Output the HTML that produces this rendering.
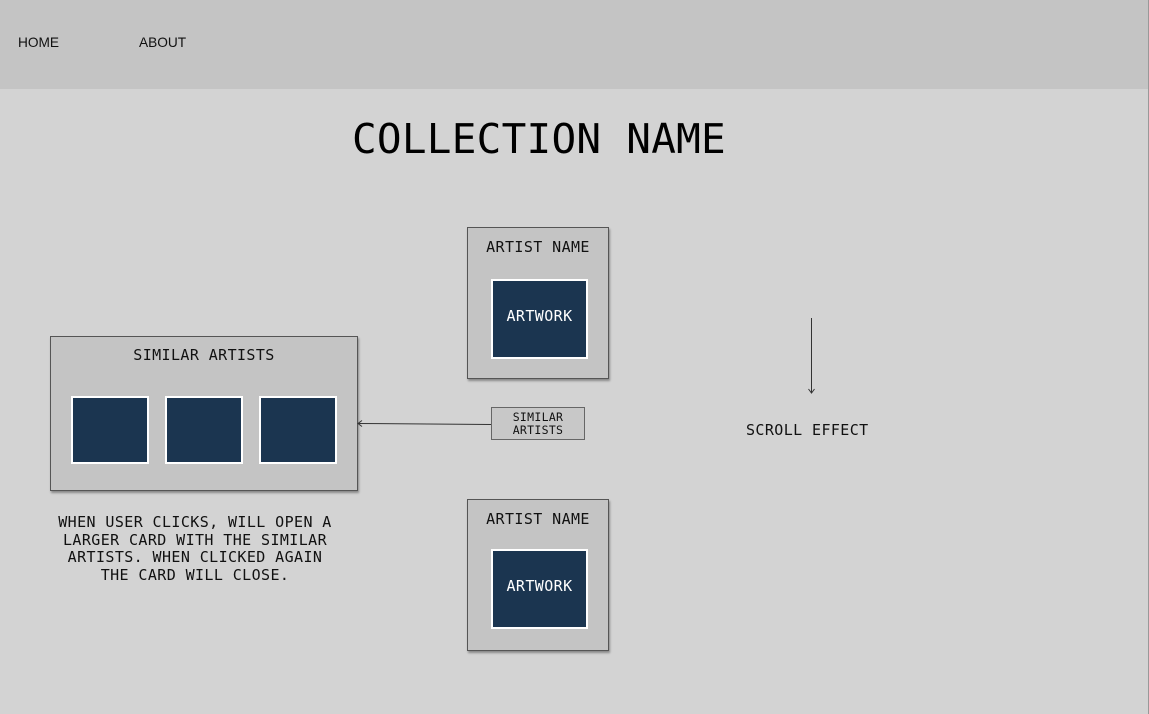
<!DOCTYPE html>
<html><head><style>
body{margin:0;width:1149px;height:714px;background:#d3d3d3;position:relative;overflow:hidden;font-family:"DejaVu Sans Mono","Liberation Mono",monospace;color:#111}
div{position:absolute;box-sizing:border-box}
.hdr{left:0;top:0;width:1149px;height:89px;background:#c4c4c4}
.nav{font-family:"Liberation Sans",sans-serif;font-size:13.7px;top:35px}
.card{background:#c4c4c4;border:1px solid #555;box-shadow:1px 2px 2px rgba(0,0,0,.35)}
.art{background:#1b3550;border:2px solid #fff;color:#fff;font-size:15px;letter-spacing:0.4px;display:flex;align-items:center;justify-content:center;padding-bottom:6px}
.t{font-size:15px;white-space:nowrap;letter-spacing:0.4px}
</style></head><body>
<div class="hdr"></div>
<div class="nav" style="left:18px">HOME</div>
<div class="nav" style="left:139px">ABOUT</div>
<div style="left:0;top:115px;width:1078px;text-align:center;font-size:41px;letter-spacing:0.25px;color:#000">COLLECTION NAME</div>

<div class="card" style="left:467px;top:227px;width:142px;height:152px"></div>
<div class="t" style="left:467px;top:238px;width:142px;text-align:center">ARTIST NAME</div>
<div class="art" style="left:491px;top:279px;width:97px;height:80px">ARTWORK</div>

<div class="card" style="left:467px;top:499px;width:142px;height:152px"></div>
<div class="t" style="left:467px;top:510px;width:142px;text-align:center">ARTIST NAME</div>
<div class="art" style="left:491px;top:549px;width:97px;height:80px">ARTWORK</div>

<div style="left:491px;top:407px;width:94px;height:33px;border:1px solid #666;background:#c8c8c8;font-size:11.5px;letter-spacing:0.3px;text-align:center;line-height:13px;padding-top:3px">SIMILAR<br>ARTISTS</div>

<div class="card" style="left:50px;top:336px;width:308px;height:155px"></div>
<div class="t" style="left:50px;top:346px;width:308px;text-align:center">SIMILAR ARTISTS</div>
<div class="art" style="left:71px;top:396px;width:78px;height:68px"></div>
<div class="art" style="left:165px;top:396px;width:78px;height:68px"></div>
<div class="art" style="left:259px;top:396px;width:78px;height:68px"></div>

<div class="t" style="left:40px;top:514px;width:310px;text-align:center;line-height:17.7px">WHEN USER CLICKS, WILL OPEN A<br>LARGER CARD WITH THE SIMILAR<br>ARTISTS. WHEN CLICKED AGAIN<br>THE CARD WILL CLOSE.</div>

<div class="t" style="left:746px;top:421px">SCROLL EFFECT</div>

<svg style="position:absolute;left:0;top:0" width="1149" height="714">
<line x1="491" y1="424.5" x2="358" y2="423.5" stroke="#333" stroke-width="1"/>
<path d="M362 420.5 L358 423.5 L362 426.5" fill="none" stroke="#333"/>
<line x1="811.5" y1="318" x2="811.5" y2="393" stroke="#333"/>
<path d="M808.5 389 L811.5 393 L814.5 389" fill="none" stroke="#333"/>
<line x1="1148.5" y1="0" x2="1148.5" y2="714" stroke="#999"/>
</svg>
</body></html>
